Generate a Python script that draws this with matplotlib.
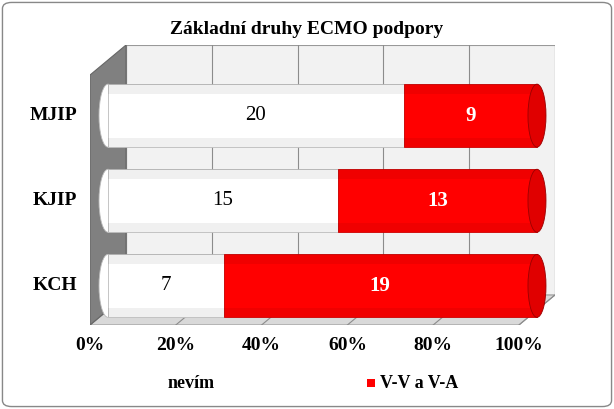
import matplotlib
matplotlib.use("Agg")
import matplotlib.pyplot as plt
from matplotlib.patches import Polygon, Ellipse, FancyBboxPatch, Rectangle
import numpy as np

categories = ["KCH", "KJIP", "MJIP"]
nevim = [7, 15, 20]
vv_va = [19, 13, 9]
tick_labels = ["0%", "20%", "40%", "60%", "80%", "100%"]
title = "Základní druhy ECMO podpory"

RED = "#ff0000"
SERIF = "Liberation Serif"

fig = plt.figure(figsize=(6.14, 4.09), dpi=100)
fig.patches.append(FancyBboxPatch((0.004, 0.006), 0.992, 0.988, boxstyle="round,pad=0,rounding_size=0.015",
                                  transform=fig.transFigure, fc="white", ec="#888888", lw=1, zorder=-5))
# axes spans px x 90..555, y 45..325
ax = fig.add_axes([90 / 614, 1 - 325 / 409, 465 / 614, 280 / 409])
ax.set_xlim(0, 108.4)
ax.set_ylim(-0.46, 2.83)
ax.axis("off")

dx, dy = 8.4, 30 / 85  # depth offset in data units
top = 2.83
# back wall
ax.add_patch(Polygon([(dx, dy - 0.46), (dx + 100, dy - 0.46), (dx + 100, top), (dx, top)],
                     fc="#f2f2f2", ec="#999999", lw=0.8, zorder=0))
for i in range(6):
    ax.plot([dx + 20 * i] * 2, [dy - 0.46, top], color="#8c8c8c", lw=0.8, zorder=1)
# floor
ax.add_patch(Polygon([(0, -0.46), (100, -0.46), (dx + 100, dy - 0.46), (dx, dy - 0.46)],
                     fc="#d9d9d9", ec="#999999", lw=0.8, zorder=1))
for i in range(6):
    ax.plot([20 * i, dx + 20 * i], [-0.46, dy - 0.46], color="#8c8c8c", lw=0.8, zorder=1)
# left wall
ax.add_patch(Polygon([(0, -0.46), (dx, dy - 0.46), (dx, top), (0, top - dy)],
                     fc="#808080", ec="#666666", lw=0.8, zorder=1))

off = dx / 2
y = np.arange(len(categories))
tot = np.array(nevim) + np.array(vv_va)
p1 = np.array(nevim) / tot * 100
p2 = np.array(vv_va) / tot * 100
h = 0.74
ew = 4.2
ax.barh(y, p1, left=off, height=h, color="white", edgecolor="#bbbbbb", lw=0.6, zorder=3)
ax.barh(y, p2, left=off + p1, height=h, color=RED, edgecolor="#cc0000", lw=0.6, zorder=3)
for yi in y:
    ax.add_patch(Ellipse((off, yi), ew, h, fc="white", ec="#bbbbbb", lw=0.6, zorder=2))
    ax.add_patch(Ellipse((off + 100, yi), ew, h, fc="#e00000", ec="#990000", lw=0.6, zorder=4))
    # shading toward the cylinder edges
    ax.add_patch(Rectangle((off, yi - h / 2), 100, h * 0.15, fc="black", alpha=0.06, zorder=3.5, lw=0))
    ax.add_patch(Rectangle((off, yi + h * 0.35), 100, h * 0.15, fc="black", alpha=0.06, zorder=3.5, lw=0))
for yi, a, b, n, v in zip(y, p1, p2, nevim, vv_va):
    ax.text(off + a / 2, yi, str(n), ha="center", va="center", fontsize=15, family=SERIF, zorder=5)
    ax.text(off + a + b / 2, yi, str(v), ha="center", va="center", fontsize=15, family=SERIF,
            fontweight="bold", color="white", zorder=5)
    ax.text(-3, yi, categories[yi], ha="right", va="center", fontsize=14, family=SERIF,
            fontweight="bold")
for i, t in enumerate(tick_labels):
    ax.text(20 * i, -0.6, t, ha="center", va="top", fontsize=14, family=SERIF, fontweight="bold",
            clip_on=False)

fig.text(0.5, 1 - 30 / 409, title, ha="center", va="center", fontsize=14, family=SERIF, fontweight="bold")
# legend
fig.patches.append(Rectangle((157 / 614, 1 - 387 / 409), 8 / 614, 8 / 409, transform=fig.transFigure,
                             fc="white", ec="none"))
fig.text(168 / 614, 1 - 383 / 409, "nevím", ha="left", va="center", fontsize=13, family=SERIF, fontweight="bold")
fig.patches.append(Rectangle((367 / 614, 1 - 387 / 409), 8 / 614, 8 / 409, transform=fig.transFigure,
                             fc=RED, ec="none"))
fig.text(380 / 614, 1 - 383 / 409, "V-V a V-A", ha="left", va="center", fontsize=13, family=SERIF, fontweight="bold")

fig.savefig("out.png", dpi=100)
